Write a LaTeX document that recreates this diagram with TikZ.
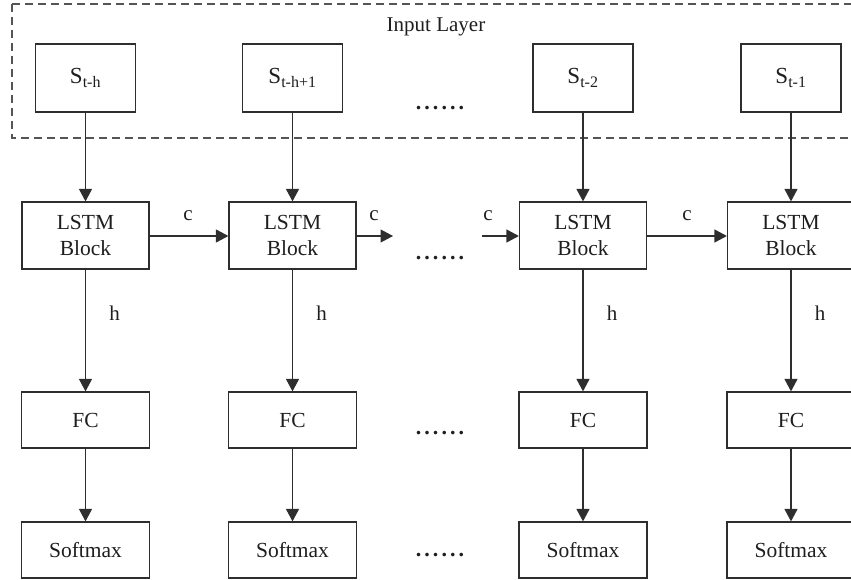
\documentclass[tikz,border=0pt]{standalone}
\usepackage{fontspec}
\setmainfont{Liberation Serif}
\newfontfamily\dotfont[LetterSpace=14]{Liberation Serif}
\usetikzlibrary{arrows.meta}

\definecolor{linec}{HTML}{2E2E2E}
\definecolor{dashc}{HTML}{555555}
\definecolor{txt}{HTML}{1E1E1E}

\begin{document}
\begin{tikzpicture}[x=1pt,y=-1pt,
  every node/.style={text=txt},
  unitbox/.style={draw=linec, line width=1.2pt, fill=white, inner sep=0pt,
    align=center, font=\fontsize{21.5}{26}\selectfont},
  inbox/.style={unitbox, minimum width=100pt, minimum height=68pt},
  lstmbox/.style={unitbox, minimum width=127pt, minimum height=67pt},
  fcbox/.style={unitbox, minimum width=128pt, minimum height=56pt},
  flow/.style={draw=linec, line width=1.2pt, -{Triangle[length=12.5pt,width=13pt]}},
  lbl/.style={font=\fontsize{21}{24}\selectfont, inner sep=0pt},
  ellip/.style={font=\fontsize{22}{24}\dotfont\bfseries, inner sep=0pt, anchor=base},
  region/.style={draw=dashc, line width=1.2pt, dash pattern=on 8pt off 5pt}
]
\useasboundingbox (0,0) rectangle (851,580);
\clip (0,0) rectangle (851,580);

% input layer frame
\draw[region] (12,4) -- (12,138) -- (880,138);
\draw[region] (12,4) -- (880,4);
\node[lbl] (inlabel) at (436,27) {Input Layer};

% four unrolled time steps
\foreach \i/\x/\sub in {1/85.5/t-h, 2/292.5/t-h+1, 3/583/t-2, 4/791/t-1} {
  \node[inbox] (s\i) at (\x,78) {{\fontsize{23}{24}\selectfont S}\textsubscript{\fontsize{16}{18}\selectfont \sub}};
  \node[lstmbox] (l\i) at (\x,235.5) {LSTM\\Block};
  \node[fcbox] (f\i) at (\x,420) {FC};
  \node[fcbox] (m\i) at (\x,550) {Softmax};
  \draw[flow] (s\i) -- (l\i);
  \draw[flow] (l\i) -- (f\i);
  \draw[flow] (f\i) -- (m\i);
  \node[lbl] (h\i) at (\x+29,313) {h};
}

% cell state passed along the chain
\coordinate (cout) at (393,236);
\coordinate (cin) at (482,236);
\draw[flow] (l1.east |- 0,236) -- (l2.west |- 0,236);
\draw[flow] (l2.east |- 0,236) -- (cout);
\draw[flow] (cin) -- (l3.west |- 0,236);
\draw[flow] (l3.east |- 0,236) -- (l4.west |- 0,236);
\node[lbl] (c1) at (188,216) {c};
\node[lbl] (c2) at (374,216) {c};
\node[lbl] (c3) at (488,216) {c};
\node[lbl] (c4) at (687,216) {c};

% omitted steps
\node[ellip] (d1) at (440,110) {......};
\node[ellip] (d2) at (440,259) {......};
\node[ellip] (d3) at (440,434) {......};
\node[ellip] (d4) at (440,556) {......};
\end{tikzpicture}
\end{document}
